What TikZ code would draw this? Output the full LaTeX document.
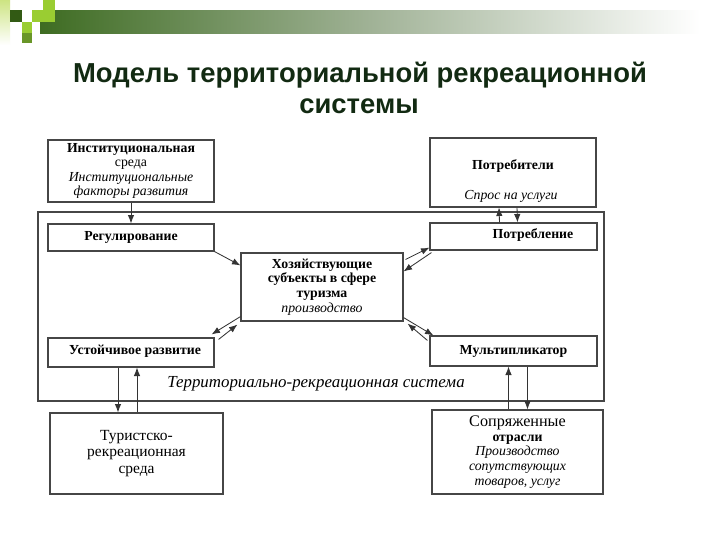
\documentclass[tikz,border=0pt]{standalone}
\usepackage{fontspec}
\setmainfont{Liberation Serif}
\newfontfamily\titlefont{Liberation Sans}
\usetikzlibrary{arrows.meta,calc}
\definecolor{titlegreen}{RGB}{18,42,18}
\definecolor{bardark}{RGB}{62,108,34}
\definecolor{barmid}{RGB}{160,178,150}
\definecolor{limesq}{RGB}{154,205,50}
\definecolor{limelight}{RGB}{205,228,130}
\definecolor{darksq}{RGB}{50,90,20}
\definecolor{midsq}{RGB}{105,150,40}
\definecolor{edgecol}{RGB}{70,70,70}
\def\pxu{0.025cm}
\begin{document}
\begin{tikzpicture}[x=0.025cm,y=-0.025cm,
  box/.style={draw=edgecol, line width=0.8pt, inner sep=0pt, align=center,
    font=\fontsize{9.8}{10.4}\selectfont},
  txt/.style={inner sep=0pt, align=center, font=\fontsize{9.8}{10.4}\selectfont},
  arr/.style={-{Latex[length=6pt,width=4.6pt]}, line width=0.6pt, draw=black!80}]
\useasboundingbox (0,0) rectangle (720,540);
\fill[white] (0,0) rectangle (720,540);
% header decoration
\shade[left color=bardark, right color=white, middle color=barmid] (40,10) rectangle (700,33);
\shade[top color=limelight, bottom color=white] (0,0) rectangle (10,45);
\fill[darksq] (10,10) rectangle (22,22);
\fill[limesq] (32,10) rectangle (55,22);
\fill[limesq] (43,0) rectangle (55,10);
\fill[limesq] (22,22) rectangle (32,33);
\fill[midsq] (22,33) rectangle (32,43);
% title
\node[font=\titlefont\bfseries\fontsize{19.5}{24}\selectfont, text=titlegreen, anchor=base, inner sep=0pt] (t1) at (360,82) {Модель территориальной рекреационной};
\node[font=\titlefont\bfseries\fontsize{19.5}{24}\selectfont, text=titlegreen, anchor=base, inner sep=0pt] (t2) at (359,113) {системы};
% outer system box
\node[draw=edgecol, line width=0.9pt, minimum width=566*\pxu, minimum height=189*\pxu, inner sep=0pt] (sys) at (321,306.5) {};
% boxes
\node[box, minimum width=166*\pxu, minimum height=62*\pxu] (inst) at (131,171)
  {\textbf{Институциональная}\\ среда\\ \textit{Институциональные}\\ \textit{факторы развития}};
\node[box, minimum width=166*\pxu, minimum height=69*\pxu] (cons) at (513,172.5) {};
\node[txt] (consT) at (513,166) {\textbf{Потребители}};
\node[txt] (consS) at (511,196) {\textit{Спрос на услуги}};
\node[box, minimum width=166*\pxu, minimum height=27*\pxu] (reg) at (131,237.5) {\textbf{Регулирование}};
\node[box, minimum width=167*\pxu, minimum height=27*\pxu] (potr) at (513.5,236.5) {};
\node[txt] (potrT) at (533,235) {\textbf{Потребление}};
\node[box, minimum width=162*\pxu, minimum height=68*\pxu] (center) at (322,287)
  {\textbf{Хозяйствующие}\\ \textbf{субъекты в сфере}\\ \textbf{туризма}\\ \textit{производство}};
\node[box, minimum width=166*\pxu, minimum height=29*\pxu] (ust) at (131,352.5) {};
\node[txt] (ustT) at (135,351) {\textbf{Устойчивое развитие}};
\node[box, minimum width=167*\pxu, minimum height=30*\pxu] (mult) at (513.5,351) {\textbf{Мультипликатор}};
\node[box, minimum width=173*\pxu, minimum height=81*\pxu, font=\fontsize{11}{11.6}\selectfont] (tur) at (136.5,453.5)
  {Туристско-\\ рекреационная\\ среда};
\node[box, minimum width=171*\pxu, minimum height=84*\pxu] (sopr) at (517.5,452)
  {{\fontsize{11.5}{10.4}\selectfont Сопряженные}\\ \textbf{отрасли}\\ \textit{Производство}\\ \textit{сопутствующих}\\ \textit{товаров, услуг}};
\node[inner sep=0pt, font=\fontsize{12}{12}\selectfont\itshape] (sysL) at (316,384) {Территориально-рекреационная система};
% vertical arrows
\draw[arr] (inst.south) -- (reg.north);
\draw[arr] ([xshift=-14*\pxu]potr.north) -- ([xshift=-14*\pxu]cons.south);
\draw[arr] ([xshift=4*\pxu]cons.south) -- ([xshift=4*\pxu]potr.north);
\coordinate (d1) at ([xshift=-13*\pxu]ust.south);
\draw[arr] (d1) -- (d1 |- tur.north);
\coordinate (u2) at ([xshift=6*\pxu]ust.south);
\draw[arr] (u2 |- tur.north) -- (u2);
\coordinate (u3) at ([xshift=-5*\pxu]mult.south);
\draw[arr] (u3 |- sopr.north) -- (u3);
\coordinate (d3) at ([xshift=14*\pxu]mult.south);
\draw[arr] (d3) -- (d3 |- sopr.north);
% diagonal arrows
\draw[arr] (reg.south east) -- ([yshift=-13*\pxu]center.north west);
\draw[arr] ([xshift=2*\pxu,yshift=-7*\pxu]center.north east) -- ([yshift=3*\pxu]potr.south west);
\draw[arr] ([xshift=2*\pxu,yshift=-2*\pxu]potr.south west) -- ([yshift=-19*\pxu]center.north east);
\draw[arr] ([yshift=4*\pxu]center.south east) -- ([xshift=4*\pxu]mult.north west);
\draw[arr] ([xshift=-2*\pxu,yshift=-5*\pxu]mult.north west) -- ([xshift=4*\pxu,yshift=-2*\pxu]center.south east);
\draw[arr] ([yshift=5*\pxu]center.south west) -- ([xshift=-3*\pxu,yshift=3*\pxu]ust.north east);
\draw[arr] ([xshift=4*\pxu,yshift=-2*\pxu]ust.north east) -- ([xshift=-3*\pxu,yshift=-3*\pxu]center.south west);
\end{tikzpicture}
\end{document}
